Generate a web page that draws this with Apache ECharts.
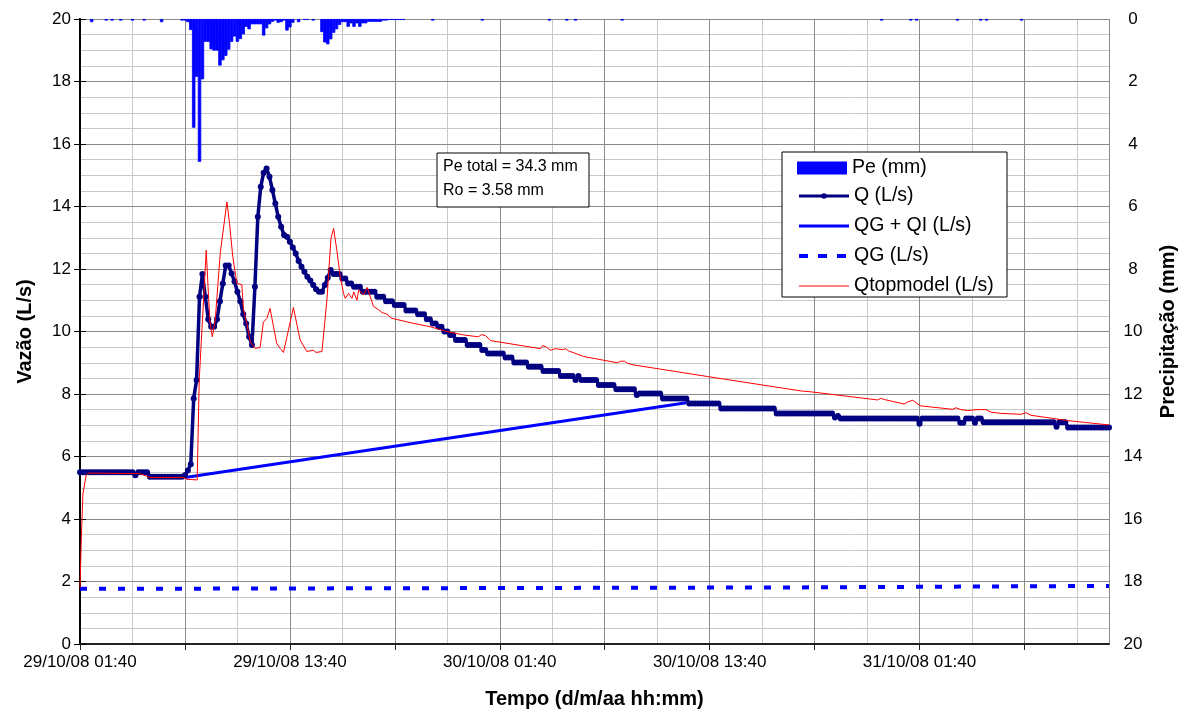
<!DOCTYPE html>
<html><head><meta charset="utf-8">
<script src="https://cdn.jsdelivr.net/npm/echarts@6/dist/echarts.min.js"></script>
<style>html,body{margin:0;padding:0;background:#fff}#c{width:1186px;height:715px}</style>
</head><body><div id="c"></div>
<script>
// Time origin of the record: 29/10/08 01:40, x values are minutes since then
const startUTC = Date.UTC(2008, 9, 29, 1, 40);
const stepMinutes = 10;
const axisMaxMinutes = 3530;
const labelEveryMinutes = 720;

// Q (L/s), one value every 10 minutes
const qFlow = [
5.5,5.5,5.5,5.5,5.5,5.5,5.5,5.5,5.5,5.5,5.5,5.5,5.5,5.5,5.5,5.5,5.5,5.5,5.5,
5.4,
5.5,5.5,5.5,5.5,
5.35,5.35,5.35,5.35,5.35,5.35,5.35,5.35,5.35,5.35,5.35,5.35,
5.4,5.55,5.75,7.86,8.45,11.11,11.84,11.11,10.39,10.15,10.15,10.39,10.97,11.54,12.11,12.11,11.86,11.6,11.27,10.97,
10.55,10.26,9.83,9.57,11.43,13.67,14.63,15.08,15.22,14.95,14.53,14.1,13.67,13.35,13.09,13.03,12.87,12.69,12.5,12.26,
12.07,11.91,11.75,11.63,11.49,11.35,11.27,11.27,11.49,11.72,11.97,11.84,11.84,11.84,11.7,11.7,11.54,11.54,11.43,11.43,11.43,
11.27,11.27,11.27,11.27,11.27,
11.11,11.11,11.11,
10.97,10.97,10.97,
10.85,10.85,10.85,10.85,
10.67,10.67,10.67,10.67,
10.55,10.55,10.55,
10.39,10.39,
10.26,10.26,
10.15,10.15,
10.0,10.0,
9.89,9.89,
9.73,9.73,9.73,9.73,
9.57,9.57,9.57,9.57,9.57,
9.41,9.41,
9.3,9.3,9.3,9.3,9.3,9.3,
9.17,9.17,9.17,
9.01,9.01,9.01,9.01,9.01,
8.87,8.87,8.87,8.87,8.87,
8.74,8.74,8.74,8.74,8.74,8.74,
8.58,8.58,8.58,8.58,8.58,
8.45,8.58,
8.45,8.45,8.45,8.45,8.45,8.45,
8.29,8.29,8.29,8.29,8.29,8.29,
8.15,8.15,8.15,8.15,8.15,8.15,8.15,
7.97,
8.02,8.02,8.02,8.02,8.02,8.02,8.02,8.02,
7.86,7.86,7.86,7.86,7.86,7.86,7.86,7.86,7.86,
7.7,7.7,7.7,7.7,7.7,7.7,7.7,7.7,7.7,7.7,7.7,
7.54,7.54,7.54,7.54,7.54,7.54,7.54,7.54,7.54,7.54,7.54,7.54,7.54,7.54,7.54,7.54,7.54,7.54,7.54,
7.38,7.38,7.38,7.38,7.38,7.38,7.38,7.38,7.38,7.38,7.38,7.38,7.38,7.38,7.38,7.38,7.38,7.38,7.38,7.38,
7.25,7.3,
7.22,7.22,7.22,7.22,7.22,7.22,7.22,7.22,7.22,7.22,7.22,7.22,7.22,7.22,7.22,7.22,7.22,7.22,7.22,7.22,7.22,7.22,7.22,7.22,7.22,7.22,7.22,
7.05,
7.22,7.22,7.22,7.22,7.22,7.22,7.22,7.22,7.22,7.22,7.22,7.22,7.22,
7.08,7.08,
7.22,7.22,7.22,
7.08,
7.22,7.22,
7.1,7.1,7.1,7.1,7.1,7.1,7.1,7.1,7.1,7.1,7.1,7.1,7.1,7.1,7.1,7.1,7.1,7.1,7.1,7.1,7.1,7.1,7.1,7.1,7.1,
6.95,
7.1,7.1,7.1,
6.93,6.93,6.93,6.93,6.93,6.93,6.93,6.93,6.93,6.93,6.93,6.93,6.93,6.93,6.93
];

// Qtopmodel (L/s): [minutes, value]
const qTopmodel = [
[0,1.8],[5,3.5],[10,4.8],[21,5.4],[30,5.47],[206,5.45],[240,5.33],[354,5.33],[367,5.27],[402,5.25],
[409,8.45],[433,12.6],[441,11.1],[446,10.3],[454,9.83],[464,10.37],[481,12.5],[504,14.15],[513,13.46],
[524,12.4],[538,11.54],[555,11.5],[561,10.7],[572,10.26],[584,9.67],[601,9.46],[618,9.49],[629,10.3],
[641,10.42],[652,10.74],[664,10.15],[675,9.62],[687,9.46],[698,9.33],[710,9.83],[732,10.77],[755,9.73],
[778,9.36],[800,9.4],[810,9.33],[830,9.36],[847,11.0],[861,12.98],[870,13.3],[881,12.6],[893,11.75],
[904,11.22],[910,11.06],[921,11.22],[933,11.06],[939,11.27],[950,11.0],[956,11.33],[973,11.17],
[985,11.41],[996,11.11],[1007,10.8],[1024,10.7],[1036,10.61],[1053,10.55],[1070,10.42],[1076,10.37],
[1145,10.26],[1202,10.15],[1259,10.0],[1316,9.89],[1367,9.83],[1377,9.9],[1391,9.87],[1408,9.71],
[1580,9.45],[1587,9.55],[1600,9.5],[1614,9.4],[1631,9.45],[1655,9.42],[1666,9.45],[1676,9.38],
[1728,9.2],[1843,9.0],[1854,9.05],[1868,9.05],[1878,8.98],[1900,8.93],[2152,8.56],[2472,8.1],
[2507,8.07],[2736,7.81],[2747,7.86],[2761,7.82],[2827,7.68],[2840,7.75],[2857,7.8],[2871,7.7],
[2884,7.62],[2994,7.51],[3005,7.56],[3022,7.5],[3045,7.47],[3077,7.5],[3108,7.5],[3125,7.42],
[3159,7.38],[3228,7.35],[3245,7.4],[3262,7.32],[3388,7.15],[3530,7.01]
];

// QG + QI (L/s) separation line: [minutes, value]
const qgQi = [[360,5.33],[2080,7.72]];

// QG (L/s): [minutes, value]
const qg = [[0,1.77],[340,1.77],[345,1.81],[2435,1.81],[2440,1.86],[3530,1.86]];

// Pe (mm) per 10-minute interval: [minutes, mm]
const pe = [
[40,0.1],[90,0.05],[110,0.05],[140,0.05],[180,0.05],[220,0.05],[280,0.1],[350,0.05],[360,0.05],
[370,0.1],[380,0.35],[390,3.48],[400,1.85],[410,4.57],[420,1.93],[430,0.73],[440,0.73],[450,0.97],
[460,1.01],[470,1.01],[480,1.49],[490,1.32],[500,1.18],[510,0.98],[520,0.73],[530,0.56],[540,0.73],
[550,0.64],[560,0.49],[570,0.25],[580,0.33],[590,0.17],[600,0.17],[610,0.17],[620,0.17],[630,0.53],
[640,0.3],[650,0.17],[660,0.09],[670,0.05],[680,0.12],[690,0.1],[700,0.05],[710,0.37],[720,0.27],
[730,0.12],[750,0.1],[770,0.03],[780,0.03],[800,0.05],[830,0.42],[840,0.75],[850,0.81],[860,0.65],
[870,0.44],[880,0.33],[890,0.19],[900,0.1],[910,0.1],[920,0.25],[930,0.14],[940,0.25],[950,0.14],
[960,0.25],[970,0.14],[980,0.14],[990,0.09],[1000,0.09],[1010,0.09],[1020,0.09],[1030,0.09],
[1040,0.05],[1050,0.05],[1060,0.03],[1070,0.03],[1080,0.03],[1090,0.03],[1100,0.03],[1110,0.03],
[1210,0.05],[1380,0.05],[1610,0.05],[1670,0.05],[1700,0.05],[1860,0.05],[2750,0.05],[2850,0.05],
[2870,0.05],[3010,0.05],[3090,0.05],[3110,0.05],[3230,0.05]
];

const legendNames = ['Pe (mm)', 'Q (L/s)', 'QG + QI (L/s)', 'QG (L/s)', 'Qtopmodel (L/s)'];
const noteLines = ['Pe total = 34.3 mm', 'Ro = 3.58 mm'];
const axisTitles = {x: 'Tempo (d/m/aa hh:mm)', yLeft: 'Vazão (L/s)', yRight: 'Precipitação (mm)'};

const FONT = "'Liberation Sans', Arial, sans-serif";
const pad = n => (n < 10 ? '0' : '') + n;
function fmtTime(min) {
  const d = new Date(startUTC + min * 60000);
  return pad(d.getUTCDate()) + '/' + pad(d.getUTCMonth() + 1) + '/' + pad(d.getUTCFullYear() % 100) +
         ' ' + pad(d.getUTCHours()) + ':' + pad(d.getUTCMinutes());
}

const qData = qFlow.map((v, i) => [i * stepMinutes, v]);

const chart = echarts.init(document.getElementById('c'), null, {renderer: 'canvas'});
const major = '#8a8a8a', minor = '#c8c8c8';
const tickLabel = {fontSize: 17, color: '#000', fontFamily: FONT};
const titleStyle = {fontSize: 20, fontWeight: 'bold', color: '#000', fontFamily: FONT};
const legendText = {fontSize: 19.5, color: '#000', fontFamily: FONT};
const hiddenDot = {opacity: 0};

chart.setOption({
  animation: false,
  backgroundColor: '#fff',
  grid: {left: 80, right: 77, top: 19, bottom: 71, containLabel: false, outerBoundsMode: 'none'},
  xAxis: [
    {type: 'value', min: 0, max: axisMaxMinutes, interval: 360, z: 1,
     axisLine: {show: true, lineStyle: {color: '#222', width: 2}},
     axisTick: {show: true, inside: false, length: 6, lineStyle: {color: '#222'}},
     axisLabel: {...tickLabel, margin: 10, showMaxLabel: false,
       formatter: v => (v % labelEveryMinutes === 0 ? fmtTime(v) : '')},
     splitLine: {show: true, lineStyle: {color: major, width: 1}},
     name: axisTitles.x, nameLocation: 'middle', nameGap: 45, nameTextStyle: titleStyle},
    {type: 'value', min: 0, max: axisMaxMinutes, interval: 180, z: 0, position: 'bottom',
     axisLine: {show: false}, axisTick: {show: false}, axisLabel: {show: false},
     splitLine: {show: true, lineStyle: {color: minor, width: 1}}}
  ],
  yAxis: [
    {type: 'value', position: 'left', min: 0, max: 20, interval: 2, z: 1,
     axisLine: {show: true, lineStyle: {color: '#000', width: 2}},
     axisTick: {show: true, inside: false, length: 6, lineStyle: {color: '#000'}},
     axisLabel: {...tickLabel, margin: 9},
     splitLine: {show: true, lineStyle: {color: major, width: 1}},
     name: axisTitles.yLeft, nameLocation: 'middle', nameGap: 45, nameRotate: 90, nameTextStyle: titleStyle},
    {type: 'value', position: 'right', min: 0, max: 20, interval: 2, inverse: true, z: 1,
     axisLine: {show: true, lineStyle: {color: '#000', width: 2}},
     axisTick: {show: true, inside: false, length: 6, lineStyle: {color: '#000'}},
     axisLabel: {...tickLabel, margin: 24, align: 'center'},
     splitLine: {show: false},
     name: axisTitles.yRight, nameLocation: 'middle', nameGap: 49, nameRotate: 90, nameTextStyle: titleStyle},
    {type: 'value', position: 'left', min: 0, max: 20, interval: 0.5, z: 0,
     axisLine: {show: false}, axisTick: {show: false}, axisLabel: {show: false},
     splitLine: {show: true, lineStyle: {color: minor, width: 1}}}
  ],
  legend: [
    {orient: 'vertical', left: 797, top: 158, padding: 0, itemWidth: 50, itemHeight: 13, itemGap: 11,
     textStyle: legendText, selectedMode: false,
     data: [{name: legendNames[0], icon: 'rect', itemStyle: {borderWidth: 0}}]},
    {orient: 'vertical', left: 797, top: 186, padding: 0, itemWidth: 50, itemHeight: 7, itemGap: 10,
     textStyle: legendText, selectedMode: false,
     data: [
       {name: legendNames[1], lineStyle: {width: 3}},
       {name: legendNames[2], itemStyle: hiddenDot, lineStyle: {width: 3}},
       {name: legendNames[3], itemStyle: hiddenDot, lineStyle: {width: 4, type: [9, 10]}},
       {name: legendNames[4], itemStyle: hiddenDot, lineStyle: {width: 1}}
     ]}
  ],
  graphic: [
    {type: 'rect', z: 3, shape: {x: 782, y: 152, width: 225, height: 145},
     style: {fill: '#fff', stroke: '#000', lineWidth: 1}},
    {type: 'rect', z: 3, shape: {x: 437, y: 153, width: 152, height: 54},
     style: {fill: '#fff', stroke: '#000', lineWidth: 1}},
    {type: 'text', z: 4, x: 443, y: 167, style: {text: noteLines[0], fontSize: 16, fontFamily: FONT, fill: '#000', verticalAlign: 'middle'}},
    {type: 'text', z: 4, x: 443, y: 191, style: {text: noteLines[1], fontSize: 16, fontFamily: FONT, fill: '#000', verticalAlign: 'middle'}}
  ],
  series: [
    {name: legendNames[0], type: 'bar', xAxisIndex: 0, yAxisIndex: 1, data: pe, barWidth: 3.4,
     itemStyle: {color: '#0000ff', borderColor: '#0000ff', borderWidth: 0.8}, z: 2},
    {name: legendNames[2], type: 'line', xAxisIndex: 0, yAxisIndex: 0, data: qgQi, symbol: 'none',
     lineStyle: {color: '#0000ff', width: 3}, itemStyle: {color: '#0000ff'}, z: 3},
    {name: legendNames[3], type: 'line', xAxisIndex: 0, yAxisIndex: 0, data: qg, symbol: 'none',
     lineStyle: {color: '#0000ff', width: 4, type: [7, 12]}, itemStyle: {color: '#0000ff'}, z: 3},
    {name: legendNames[1], type: 'line', xAxisIndex: 0, yAxisIndex: 0, data: qData, symbol: 'circle',
     symbolSize: 6, showAllSymbol: true,
     lineStyle: {color: '#000080', width: 3.5}, itemStyle: {color: '#000080'}, z: 4},
    {name: legendNames[4], type: 'line', xAxisIndex: 0, yAxisIndex: 0, data: qTopmodel, symbol: 'none',
     lineStyle: {color: '#ff0000', width: 1}, itemStyle: {color: '#ff0000'}, z: 5}
  ]
});
</script></body></html>
